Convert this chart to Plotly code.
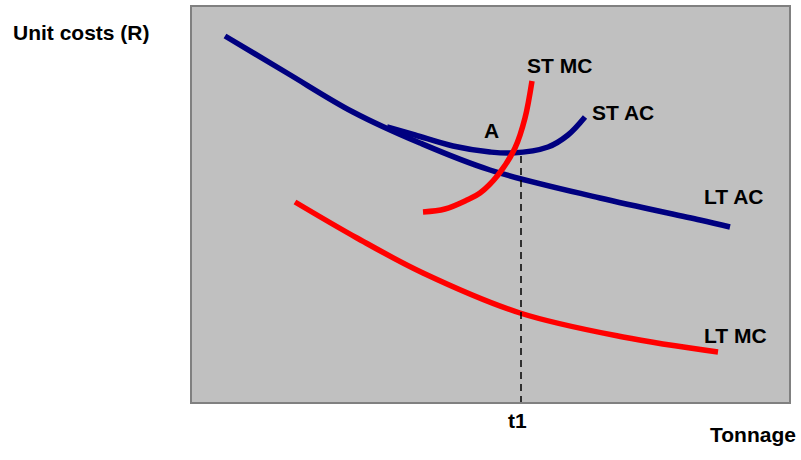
import plotly.graph_objects as go

# Values (arbitrary units: tonnage on x, unit cost on y)
lt_ac_x = [34, 96, 162, 229, 299, 409, 509, 539]
lt_ac_y = [367, 330, 291, 260, 233, 205, 183, 176]

st_ac_x = [196, 224, 262, 299, 321, 357, 377, 394]
st_ac_y = [276, 268, 257, 251, 250, 256, 268, 286]

st_mc_x = [232, 254, 276, 289, 307, 324, 334, 341]
st_mc_y = [191, 194, 203, 210, 228, 255, 285, 322]

lt_mc_x = [104, 166, 232, 329, 432, 527]
lt_mc_y = [201, 165, 130, 90, 66, 51]

t1_x = 330
t1_top = 250

labels = ["ST MC", "ST AC", "A", "LT AC", "LT MC"]
label_x = [368, 432, 300, 542, 544]
label_y = [338, 291, 273, 207, 68]

X_RANGE = [0, 599]
Y_RANGE = [0, 397]

NAVY = "#000080"
RED = "#FF0000"
FONT = dict(family="Arial, Liberation Sans, sans-serif", size=21, color="black")
LW = 5.5

fig = go.Figure()
fig.add_trace(go.Scatter(x=lt_ac_x, y=lt_ac_y, mode="lines",
                         line=dict(color=NAVY, width=LW, shape="spline", smoothing=1.0)))
fig.add_trace(go.Scatter(x=st_ac_x, y=st_ac_y, mode="lines",
                         line=dict(color=NAVY, width=LW, shape="spline", smoothing=1.0)))
fig.add_trace(go.Scatter(x=lt_mc_x, y=lt_mc_y, mode="lines",
                         line=dict(color=RED, width=LW, shape="spline", smoothing=1.0)))
fig.add_trace(go.Scatter(x=st_mc_x, y=st_mc_y, mode="lines",
                         line=dict(color=RED, width=LW, shape="spline", smoothing=1.0)))
fig.add_trace(go.Scatter(x=[t1_x, t1_x], y=[0, t1_top], mode="lines",
                         line=dict(color="black", width=1.5, dash="7px,5px")))

for t, x, y in zip(labels, label_x, label_y):
    fig.add_annotation(x=x, y=y, xref="x", yref="y", text="<b>%s</b>" % t,
                       showarrow=False, font=FONT, xanchor="center", yanchor="middle")

fig.add_annotation(x=t1_x - 4, y=-0.043, xref="x", yref="paper", text="<b>t1</b>",
                   showarrow=False, font=FONT, xanchor="center", yanchor="middle")
fig.add_annotation(x=0.938, y=-0.080, xref="paper", yref="paper", text="<b>Tonnage</b>",
                   showarrow=False, font=FONT, xanchor="center", yanchor="middle")
fig.add_annotation(x=-0.1836, y=0.932, xref="paper", yref="paper", text="<b>Unit costs (R)</b>",
                   showarrow=False, font=FONT, xanchor="center", yanchor="middle")

fig.add_shape(type="rect", xref="paper", yref="paper", x0=0, y0=0, x1=1, y1=1,
              line=dict(color="#808080", width=2), layer="above")

fig.update_xaxes(range=X_RANGE, visible=False, showgrid=False, zeroline=False)
fig.update_yaxes(range=Y_RANGE, visible=False, showgrid=False, zeroline=False)
fig.update_layout(width=801, height=460, showlegend=False,
                  margin=dict(l=191, r=11, t=6, b=57),
                  plot_bgcolor="#C0C0C0", paper_bgcolor="white")

fig.write_html("out.html", config={"displayModeBar": False},
               post_script="document.body.style.margin='0';document.body.style.overflow='hidden';")
